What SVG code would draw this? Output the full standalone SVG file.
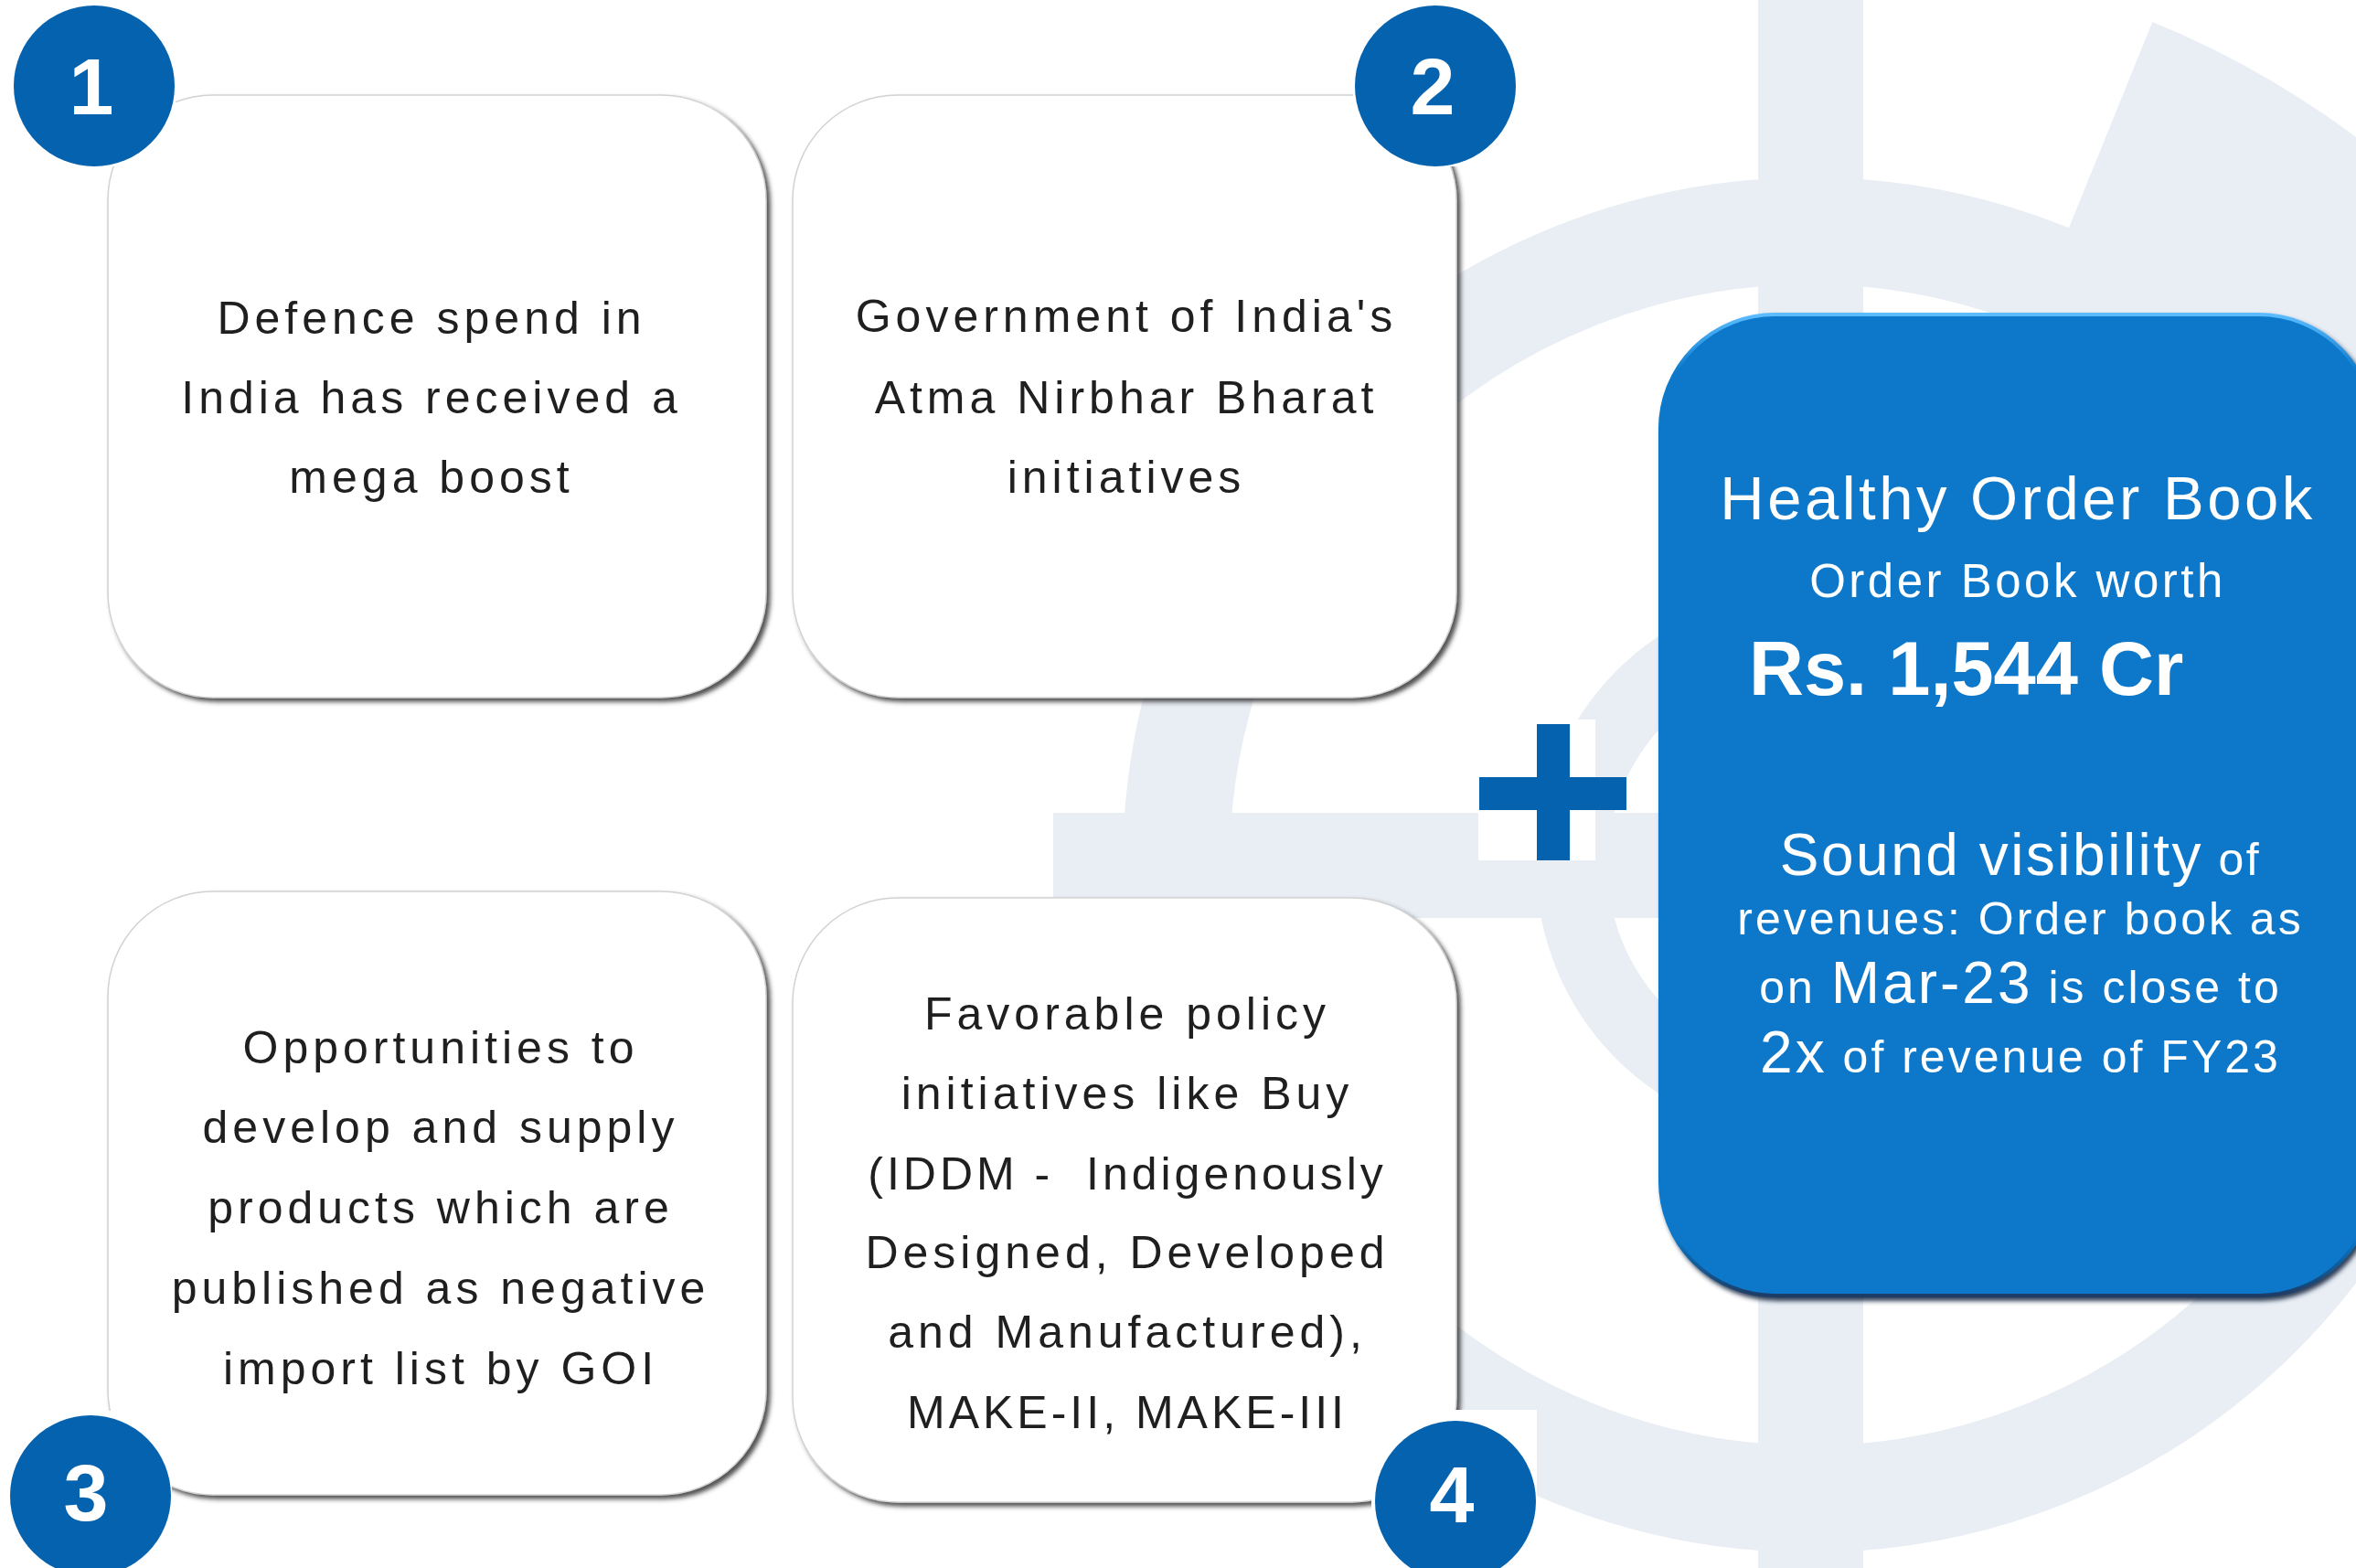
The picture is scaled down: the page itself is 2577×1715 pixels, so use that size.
<svg xmlns="http://www.w3.org/2000/svg" width="2577" height="1715" viewBox="0 0 2577 1715">
<defs>
<style>
.bg{fill:#E9EEF5}
.card{fill:#ffffff;stroke:#d2d2d2;stroke-width:1.5}
.ct{font-family:"Liberation Sans",Arial,sans-serif;font-size:50px;letter-spacing:5px;fill:#1f1f1f;text-anchor:middle}
.num{fill:#0562AE}
.nt{font-family:"Liberation Sans",Arial,sans-serif;font-weight:bold;font-size:88px;fill:#ffffff;text-anchor:middle}
.wt{font-family:"Liberation Sans",Arial,sans-serif;fill:#ffffff;text-anchor:middle}
</style>
<filter id="sh" x="-5%" y="-5%" width="112%" height="112%">
<feGaussianBlur in="SourceAlpha" stdDeviation="2.5"/>
<feOffset dx="4" dy="4" result="b"/>
<feFlood flood-color="#333333" flood-opacity="0.85"/>
<feComposite in2="b" operator="in"/>
<feMerge><feMergeNode/><feMergeNode in="SourceGraphic"/></feMerge>
</filter>
<filter id="bsh" x="-5%" y="-5%" width="112%" height="112%">
<feGaussianBlur in="SourceAlpha" stdDeviation="2.5"/>
<feOffset dx="3" dy="4" result="b"/>
<feFlood flood-color="#1a2b45" flood-opacity="0.9"/>
<feComposite in2="b" operator="in"/>
<feMerge><feMergeNode/><feMergeNode in="SourceGraphic"/></feMerge>
</filter>
<linearGradient id="bev" x1="0" y1="0" x2="0" y2="1">
<stop offset="0" stop-color="#5cbcff"/>
<stop offset="0.06" stop-color="#0778CA"/>
<stop offset="0.94" stop-color="#0778CA"/>
<stop offset="1" stop-color="#1d3d66"/>
</linearGradient>
</defs>
<rect width="2577" height="1715" fill="#ffffff"/>
<g id="background-logo">
<rect class="bg" x="1923" y="0" width="115" height="1715"/>
<rect class="bg" x="1152" y="889" width="1425" height="115"/>
<circle cx="1980" cy="946" r="693.5" fill="none" stroke="#E9EEF5" stroke-width="117"/>
<circle cx="1980" cy="946" r="261" fill="none" stroke="#E9EEF5" stroke-width="78"/>
<path class="bg" d="M2218.9,357.7 L2354.3,24.1 A995,995 0 0 1 2975,946 L2615,946 A635,635 0 0 0 2218.9,357.7 Z"/>
</g>
<g id="node-1">
<rect class="card" x="118" y="104" width="720" height="659" rx="115" filter="url(#sh)"/>
<text class="ct"><tspan x="472" y="365">Defence spend in</tspan><tspan x="472" y="452">India has received a</tspan><tspan x="472" y="539">mega boost</tspan></text>
</g>
<g id="node-2">
<rect class="card" x="867" y="104" width="726" height="659" rx="115" filter="url(#sh)"/>
<text class="ct"><tspan x="1232" y="363">Government of India's</tspan><tspan x="1232" y="452">Atma Nirbhar Bharat</tspan><tspan x="1232" y="539">initiatives</tspan></text>
</g>
<g id="node-3">
<rect class="card" x="118" y="975" width="720" height="660" rx="115" filter="url(#sh)"/>
<text class="ct"><tspan x="482" y="1163">Opportunities to</tspan><tspan x="482" y="1250">develop and supply</tspan><tspan x="482" y="1338">products which are</tspan><tspan x="482" y="1426">published as negative</tspan><tspan x="482" y="1514">import list by GOI</tspan></text>
</g>
<g id="node-4">
<rect class="card" x="867" y="982" width="726" height="661" rx="115" filter="url(#sh)"/>
<text class="ct"><tspan x="1233" y="1126">Favorable policy</tspan><tspan x="1233" y="1213">initiatives like Buy</tspan><tspan x="1233" y="1301" letter-spacing="4">(IDDM -&#160; Indigenously</tspan><tspan x="1233" y="1387">Designed, Developed</tspan><tspan x="1233" y="1474">and Manufactured),</tspan><tspan x="1233" y="1562" letter-spacing="4">MAKE-II, MAKE-III</tspan></text>
</g>
<g id="badge-1">
<rect x="12" y="0" width="180" height="182" fill="#ffffff"/>
<circle class="num" cx="103" cy="94" r="88"/>
<text class="nt" x="100" y="125">1</text>
</g>
<g id="badge-2">
<rect x="1480" y="0" width="179" height="182" fill="#ffffff"/>
<circle class="num" cx="1570" cy="94" r="88"/>
<text class="nt" x="1567" y="125">2</text>
</g>
<g id="badge-3">
<rect x="10" y="1543" width="178" height="172" fill="#ffffff"/>
<circle class="num" cx="99" cy="1636" r="88"/>
<text class="nt" x="94" y="1663">3</text>
</g>
<g id="badge-4">
<rect x="1500" y="1542" width="181" height="173" fill="#ffffff"/>
<circle class="num" cx="1592" cy="1642" r="88"/>
<text class="nt" x="1588" y="1665">4</text>
</g>
<g id="connectors">
<rect x="1617" y="787" width="128" height="154" fill="#ffffff"/>
<rect x="1618" y="850" width="161" height="36" fill="#0562AE"/>
<rect x="1681" y="792" width="36" height="149" fill="#0562AE"/>
</g>
<g id="node-5">
<rect x="1816" y="344" width="780" height="1073" rx="125" fill="#0778CA" stroke="url(#bev)" stroke-width="4" filter="url(#bsh)"/>
<text class="wt" x="2207" y="568" font-size="67" letter-spacing="3.5">Healthy Order Book</text>
<text class="wt" x="2207" y="653" font-size="51" letter-spacing="3.5">Order Book worth</text>
<text x="1913" y="760" font-family="Liberation Sans, Arial, sans-serif" font-weight="bold" font-size="83" fill="#ffffff">Rs. 1,544 Cr</text>
<text class="wt" x="2210" y="957" font-size="50" letter-spacing="2.5"><tspan font-size="64">Sound visibility</tspan> of</text>
<text class="wt" x="2210" y="1022" font-size="50" letter-spacing="3">revenues: Order book as</text>
<text class="wt" x="2210" y="1097" font-size="50" letter-spacing="3">on <tspan font-size="64">Mar-23</tspan> is close to</text>
<text class="wt" x="2210" y="1173" font-size="50" letter-spacing="3"><tspan font-size="64">2x</tspan> of revenue of FY23</text>
</g>
</svg>
